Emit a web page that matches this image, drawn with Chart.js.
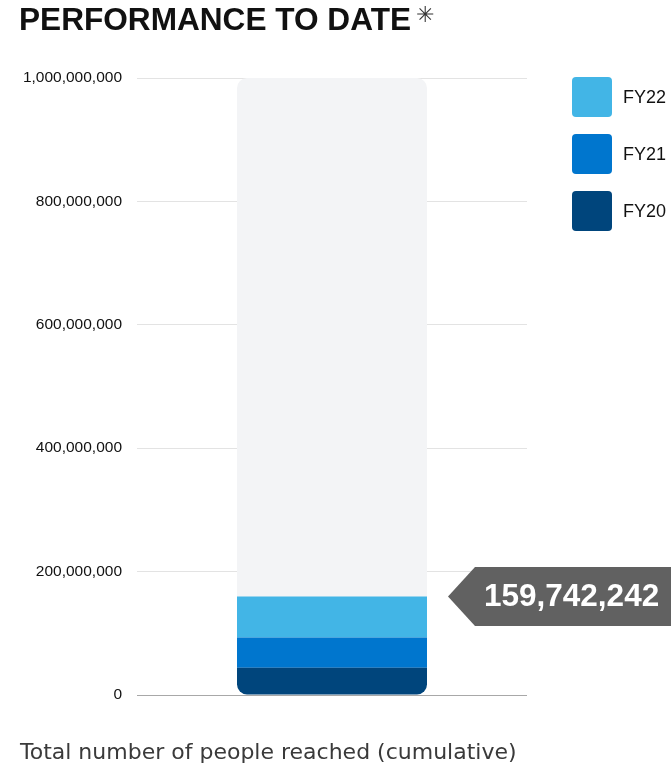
<!DOCTYPE html>
<html>
<head>
<meta charset="utf-8">
<script src="https://cdn.jsdelivr.net/npm/chart.js@4.4.1/dist/chart.umd.min.js"></script>
<style>
  html, body { margin: 0; padding: 0; background: #ffffff; }
  #wrap { position: relative; width: 671px; height: 769px; overflow: hidden; }
  #c { position: absolute; left: 0; top: 0; }
  #title { position: absolute; left: 19px; top: 4px; font-family: "Liberation Sans", Arial, sans-serif; font-weight: bold; font-size: 31.6px; line-height: 1; color: #111; white-space: nowrap; }
  #title .ast { font-weight: normal; font-size: 22px; color: #333; position: relative; top: -8px; margin-left: 5px; }
  #caption { position: absolute; left: 20px; top: 741px; font-family: "DejaVu Sans", "Liberation Sans", Arial, sans-serif; font-weight: 400; font-size: 22px; line-height: 1; color: #3a3a3a; white-space: nowrap; }
  #legend { position: absolute; left: 572px; top: 77px; }
  .li { display: flex; align-items: center; height: 40px; margin-bottom: 17px; }
  .sw { width: 40px; height: 40px; border-radius: 4px; margin-right: 11px; }
  .lt { font-family: "Liberation Sans", Arial, sans-serif; font-size: 18px; color: #111; }
</style>
</head>
<body>
<div id="wrap">
  <canvas id="c" width="671" height="769"></canvas>
  <div id="title">PERFORMANCE TO DATE<span class="ast">✳</span></div>
  <div id="legend"></div>
  <div id="caption">Total number of people reached (cumulative)</div>
</div>
<script>
// ---- data ----
const categories = ['Total'];
const seriesNames = ['FY20', 'FY21', 'FY22'];
const fy20 = [44000000];
const fy21 = [49000000];
const fy22 = [66742242];
const target = [1000000000];
const yTicks = [0, 200000000, 400000000, 600000000, 800000000, 1000000000];
const seriesColors = ['#00457c', '#0076ce', '#42b5e6'];

const seriesValues = [fy20, fy21, fy22];
const total = fy20[0] + fy21[0] + fy22[0];
const fmt = v => Number(v).toLocaleString('en-US');

const datasets = [
  {
    label: 'Target',
    data: target,
    backgroundColor: '#f3f4f6',
    stack: 'bg',
    grouped: false,
    order: 10,
    borderSkipped: false,
    borderRadius: { topLeft: 10, topRight: 10, bottomLeft: 10, bottomRight: 10 },
    barPercentage: 0.5, categoryPercentage: 1, maxBarThickness: 190
  }
];
seriesNames.forEach((name, i) => {
  const r = i === 0 ? { topLeft: 0, topRight: 0, bottomLeft: 10, bottomRight: 10 }
                    : { topLeft: 0, topRight: 0, bottomLeft: 0, bottomRight: 0 };
  datasets.push({
    label: name,
    data: seriesValues[i],
    backgroundColor: seriesColors[i],
    stack: 'fy',
    grouped: false,
    order: 0,
    borderSkipped: false,
    borderRadius: r,
    barPercentage: 0.5, categoryPercentage: 1, maxBarThickness: 190
  });
});

// HTML legend built from the datasets (reversed: FY22 on top)
const legendEl = document.getElementById('legend');
seriesNames.slice().reverse().forEach(name => {
  const idx = seriesNames.indexOf(name);
  const li = document.createElement('div');
  li.className = 'li';
  li.innerHTML = '<div class="sw" style="background:' + seriesColors[idx] + '"></div><span class="lt">' + name + '</span>';
  legendEl.appendChild(li);
});

const calloutPlugin = {
  id: 'callout',
  afterDatasetsDraw(chart) {
    const ctx = chart.ctx;
    const y = chart.scales.y.getPixelForValue(total);
    const meta = chart.getDatasetMeta(seriesNames.length);
    const bar = meta.data[0];
    const barRight = bar.x + bar.width / 2;
    const tipX = barRight + 21;
    const bodyX = tipX + 27;
    const half = 29.5;
    ctx.save();
    ctx.fillStyle = '#616161';
    ctx.beginPath();
    ctx.moveTo(tipX, y);
    ctx.lineTo(bodyX, y - half);
    ctx.lineTo(chart.width, y - half);
    ctx.lineTo(chart.width, y + half);
    ctx.lineTo(bodyX, y + half);
    ctx.closePath();
    ctx.fill();
    ctx.fillStyle = '#ffffff';
    ctx.font = 'bold 31.5px "Liberation Sans", Arial, sans-serif';
    ctx.textAlign = 'left';
    ctx.textBaseline = 'middle';
    ctx.fillText(fmt(total), bodyX + 9, y + 1);
    ctx.restore();
  }
};

new Chart(document.getElementById('c'), {
  type: 'bar',
  data: { labels: categories, datasets: datasets },
  options: {
    responsive: false,
    animation: false,
    devicePixelRatio: 1,
    layout: { padding: { left: 20, top: 78, right: 144, bottom: 74 } },
    plugins: { legend: { display: false }, tooltip: { enabled: false }, title: { display: false } },
    scales: {
      x: { display: false, stacked: true },
      y: {
        stacked: true,
        min: 0,
        max: 1000000000,
        afterFit: (s) => { s.width = 117; },
        afterBuildTicks: (s) => { s.ticks = yTicks.map(v => ({ value: v })); },
        border: { display: false },
        grid: {
          drawTicks: false,
          color: (c) => (c.tick && c.tick.value === 0) ? '#a8a8a8' : '#e3e3e3',
          lineWidth: 1
        },
        ticks: {
          padding: 15,
          color: '#111',
          font: { family: '"Liberation Sans", Arial, sans-serif', size: 15.5 },
          callback: (v) => fmt(v)
        }
      }
    }
  },
  plugins: [calloutPlugin]
});
</script>
</body>
</html>
